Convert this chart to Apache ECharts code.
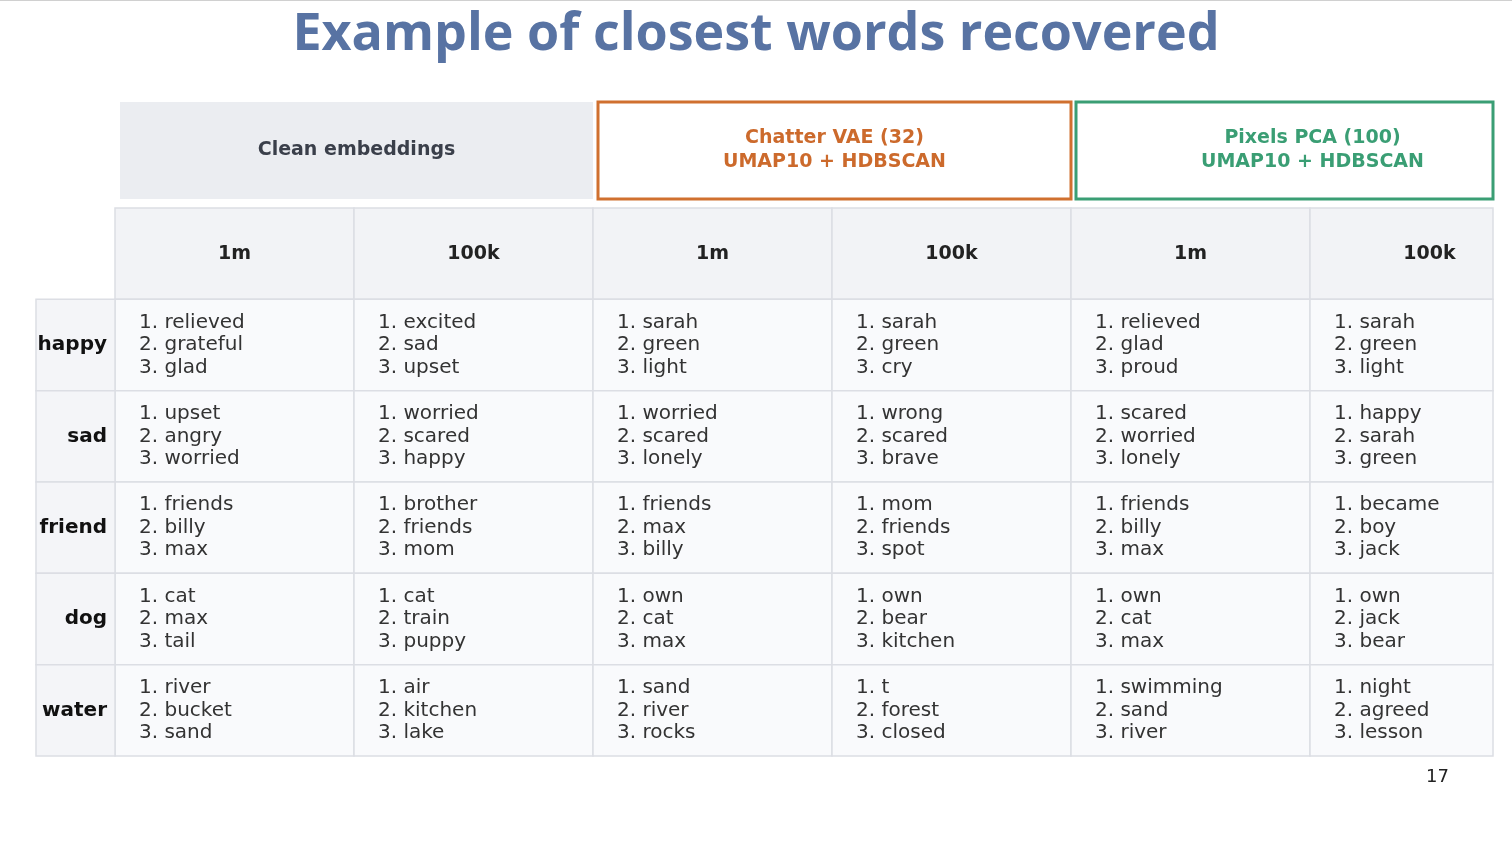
<!DOCTYPE html>
<html><head><meta charset="utf-8">
<script src="https://cdn.jsdelivr.net/npm/echarts@6/dist/echarts.min.js"></script>
<style>html,body{margin:0;padding:0;background:#fff}#c{width:1512px;height:850px}</style>
</head><body><div id="c"></div>
<script>
const groups = [
  {name: 'Clean embeddings', from: 0, to: 1, color: '#3a3f4a', bg: '#ebedf1', border: null},
  {name: 'Chatter VAE (32)\nUMAP10 + HDBSCAN', from: 2, to: 3, color: '#cc6a2c', bg: '#ffffff', border: '#d0702f'},
  {name: 'Pixels PCA (100)\nUMAP10 + HDBSCAN', from: 4, to: 5, color: '#3a9e74', bg: '#ffffff', border: '#3a9e74'}
];
const columns = ['1m', '100k', '1m', '100k', '1m', '100k'];
const rowsY = ['header', 'happy', 'sad', 'friend', 'dog', 'water'];
const rowLabels = ['happy', 'sad', 'friend', 'dog', 'water'];
const clean1m = [['relieved','grateful','glad'],['upset','angry','worried'],['friends','billy','max'],['cat','max','tail'],['river','bucket','sand']];
const clean100k = [['excited','sad','upset'],['worried','scared','happy'],['brother','friends','mom'],['cat','train','puppy'],['air','kitchen','lake']];
const chatter1m = [['sarah','green','light'],['worried','scared','lonely'],['friends','max','billy'],['own','cat','max'],['sand','river','rocks']];
const chatter100k = [['sarah','green','cry'],['wrong','scared','brave'],['mom','friends','spot'],['own','bear','kitchen'],['t','forest','closed']];
const pixels1m = [['relieved','glad','proud'],['scared','worried','lonely'],['friends','billy','max'],['own','cat','max'],['swimming','sand','river']];
const pixels100k = [['sarah','green','light'],['happy','sarah','green'],['became','boy','jack'],['own','jack','bear'],['night','agreed','lesson']];
const colValues = [clean1m, clean100k, chatter1m, chatter100k, pixels1m, pixels100k];

const FONT = '"DejaVu Sans", sans-serif';
const RIGHT_EDGE = 1493;
const cellData = [];
columns.forEach((c, ci) => cellData.push([ci, 'header']));
rowLabels.forEach((r, ri) => columns.forEach((c, ci) => cellData.push([ci, r])));
const groupData = groups.map((g, i) => [g.from, g.to, 'header', i]);

const chart = echarts.init(document.getElementById('c'));
chart.setOption({
  backgroundColor: '#fff',
  animation: false,
  title: {text: 'Example of closest words recovered', left: 'center', top: 4,
    textStyle: {fontFamily: '"Open Sans", sans-serif', fontSize: 52, fontWeight: 'bold', color: '#5873a3'}},
  grid: {left: 115, top: 208, width: 1378, height: 548},
  xAxis: {type: 'value', min: -0.5, max: -0.5 + 1378 / 239, show: false},
  yAxis: {type: 'category', data: rowsY, inverse: true, show: false},
  graphic: [
    {type: 'line', shape: {x1: 0, y1: 0.5, x2: 1512, y2: 0.5}, style: {stroke: '#d0d0d0', lineWidth: 1}},
    {type: 'text', left: 1426, top: 768, style: {text: '17', font: '18px ' + FONT, fill: '#222'}}
  ],
  series: [
    {
      type: 'custom', data: cellData, encode: {x: 0, y: 1}, clip: false,
      renderItem: function (params, api) {
        const ci = api.value(0), ri = api.value(1);
        const p = api.coord([ci, ri]);
        const s = api.size([1, 1]);
        const x = p[0] - s[0] / 2, y = p[1] - s[1] / 2;
        const w = Math.min(x + s[0], RIGHT_EDGE) - x;
        const kids = [];
        if (ri === 0) {
          kids.push({type: 'rect', shape: {x: x, y: y, width: w, height: s[1]},
            style: {fill: '#f2f3f6', stroke: '#dcdee4', lineWidth: 1.5}});
          kids.push({type: 'text', style: {text: columns[ci], x: p[0], y: p[1], align: 'center', verticalAlign: 'middle',
            font: 'bold 19px ' + FONT, fill: '#222'}});
        } else {
          const words = colValues[ci][ri - 1];
          kids.push({type: 'rect', shape: {x: x, y: y, width: w, height: s[1]},
            style: {fill: '#f9fafc', stroke: '#dcdee4', lineWidth: 1.5}});
          kids.push({type: 'text', style: {text: words.map((wd, i) => (i + 1) + '. ' + wd).join('\n'),
            x: x + 24, y: p[1], align: 'left', verticalAlign: 'middle', lineHeight: 22.5,
            font: '20px ' + FONT, fill: '#333'}});
          if (ci === 0) {
            kids.push({type: 'rect', shape: {x: x - 79, y: y, width: 79, height: s[1]},
              style: {fill: '#f4f5f8', stroke: '#dcdee4', lineWidth: 1.5}});
            kids.push({type: 'text', style: {text: rowLabels[ri - 1], x: x - 8, y: p[1], align: 'right', verticalAlign: 'middle',
              font: 'bold 20px ' + FONT, fill: '#111'}});
          }
        }
        return {type: 'group', children: kids};
      }
    },
    {
      type: 'custom', data: groupData, encode: {x: [0, 1], y: 2}, clip: false,
      renderItem: function (params, api) {
        const g = groups[api.value(3)];
        const a = api.coord([api.value(0), 0]);
        const b = api.coord([api.value(1), 0]);
        const s = api.size([1, 1]);
        const x0 = a[0] - s[0] / 2 + (g.border ? 5 : 5);
        const x1full = b[0] + s[0] / 2;
        const x1 = Math.min(x1full, RIGHT_EDGE);
        const y0 = a[1] - s[1] / 2 - 106, h = 97;
        const kids = [{type: 'rect', shape: {x: x0, y: y0, width: x1 - x0, height: h},
          style: g.border ? {fill: g.bg, stroke: g.border, lineWidth: 3} : {fill: g.bg}}];
        kids.push({type: 'text', style: {text: g.name, x: (x0 + x1full) / 2, y: y0 + h / 2,
          align: 'center', verticalAlign: 'middle', lineHeight: 24, font: 'bold 19px ' + FONT, fill: g.color}});
        return {type: 'group', children: kids};
      }
    }
  ]
});
</script></body></html>
